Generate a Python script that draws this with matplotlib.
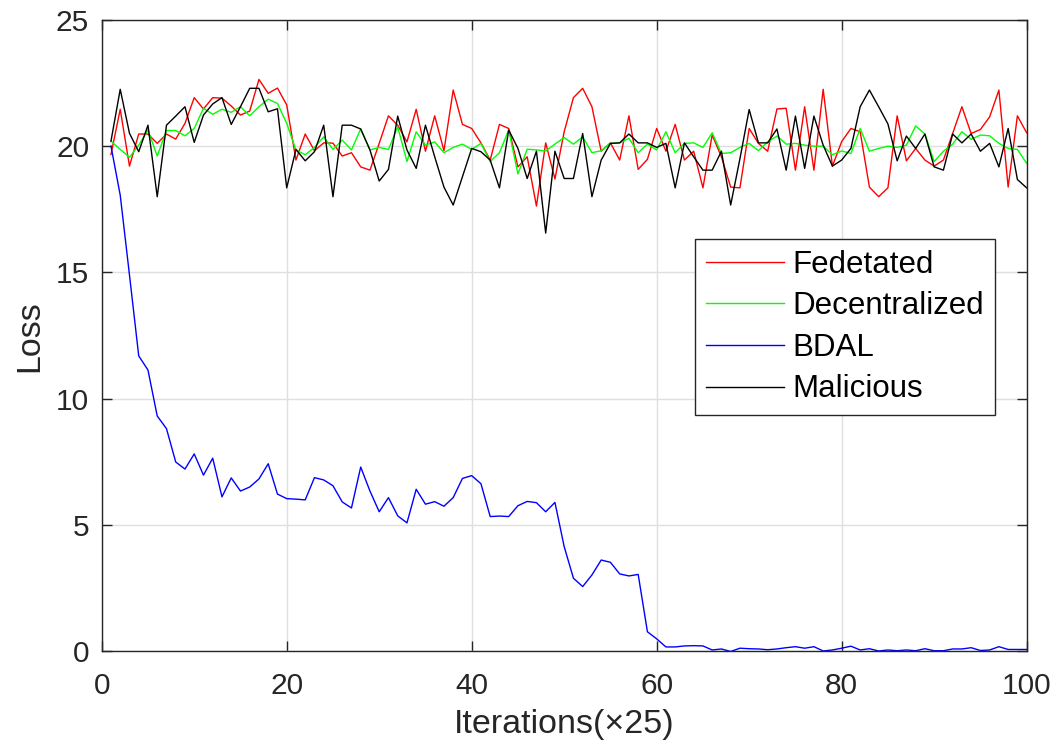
import numpy as np
import matplotlib
matplotlib.use('Agg')
import matplotlib.pyplot as plt

# iteration index (x25)
iterations = np.arange(1, 101)

federated = [
    19.67, 21.46, 19.21, 20.48, 20.48, 20.11, 20.48, 20.28, 20.90, 21.92,
    21.47, 21.92, 21.90, 21.59, 21.23, 21.39, 22.64, 22.09, 22.30, 21.63,
    19.45, 20.48, 19.82, 20.13, 20.12, 19.61, 19.74, 19.18, 19.05, 20.11,
    21.20, 20.83, 20.17, 21.46, 19.80, 21.20, 19.82, 22.22, 20.86, 20.70,
    20.13, 19.45, 20.86, 20.70, 19.18, 19.58, 17.63, 20.13, 18.70, 20.57,
    21.92, 22.29, 21.56, 19.80, 20.13, 19.45, 21.20, 19.08, 19.48, 20.70,
    19.80, 20.86, 19.45, 19.80, 18.35, 20.44, 19.58, 18.38, 18.35, 20.70,
    20.11, 19.80, 21.47, 21.50, 19.05, 21.56, 19.05, 22.25, 19.21, 20.18,
    20.70, 20.57, 18.38, 18.00, 18.35, 21.20, 19.42, 19.91, 19.45, 19.21,
    19.45, 20.50, 21.56, 20.50, 20.66, 21.16, 22.22, 18.38, 21.20, 20.53,
]

decentralized = [
    20.20, 19.87, 19.56, 20.04, 20.64, 19.61, 20.62, 20.62, 20.41, 20.70,
    21.50, 21.26, 21.46, 21.34, 21.56, 21.20, 21.56, 21.86, 21.69, 20.90,
    19.85, 19.66, 19.95, 20.37, 19.87, 20.24, 19.85, 20.68, 19.85, 19.95,
    19.87, 20.76, 19.39, 20.57, 20.04, 20.17, 19.74, 19.95, 20.08, 19.87,
    20.11, 19.39, 19.74, 20.64, 18.90, 19.88, 19.85, 19.81, 20.08, 20.34,
    20.08, 20.37, 19.74, 19.82, 20.11, 20.13, 20.31, 19.74, 20.08, 19.85,
    20.57, 19.74, 20.11, 20.13, 19.95, 20.53, 19.71, 19.74, 19.95, 20.11,
    19.82, 20.17, 20.40, 20.08, 20.11, 20.04, 20.00, 20.00, 19.66, 19.81,
    19.71, 20.70, 19.80, 19.91, 20.00, 19.95, 20.04, 20.80, 20.48, 19.39,
    19.80, 20.08, 20.57, 20.27, 20.44, 20.41, 20.11, 19.91, 19.87, 19.32,
]

bdal = [
    20.00, 18.06, 14.90, 11.70, 11.14, 9.32, 8.82, 7.50, 7.22, 7.82,
    6.98, 7.65, 6.12, 6.87, 6.35, 6.51, 6.83, 7.43, 6.23, 6.05,
    6.03, 6.00, 6.88, 6.79, 6.56, 5.92, 5.68, 7.30, 6.35, 5.53,
    6.09, 5.37, 5.09, 6.42, 5.83, 5.93, 5.75, 6.09, 6.85, 6.96,
    6.64, 5.34, 5.36, 5.34, 5.77, 5.94, 5.89, 5.53, 5.90, 4.15,
    2.90, 2.57, 3.03, 3.62, 3.53, 3.07, 2.99, 3.05, 0.78, 0.50,
    0.18, 0.18, 0.22, 0.23, 0.22, 0.06, 0.10, 0.00, 0.13, 0.11,
    0.10, 0.07, 0.10, 0.15, 0.19, 0.13, 0.19, 0.02, 0.06, 0.13,
    0.21, 0.06, 0.11, 0.02, 0.06, 0.03, 0.06, 0.03, 0.11, 0.03,
    0.03, 0.10, 0.10, 0.15, 0.04, 0.06, 0.19, 0.08, 0.08, 0.08,
]

malicious = [
    20.20, 22.25, 20.51, 19.78, 20.83, 18.00, 20.83, 21.19, 21.56, 20.15,
    21.23, 21.67, 21.92, 20.86, 21.56, 22.29, 22.29, 21.36, 21.48, 18.35,
    19.87, 19.42, 19.78, 20.83, 18.00, 20.83, 20.83, 20.68, 19.85, 18.62,
    19.08, 21.19, 19.85, 19.12, 20.83, 19.58, 18.38, 17.67, 18.79, 19.91,
    19.78, 19.45, 18.35, 20.64, 19.91, 18.72, 19.80, 16.56, 19.80, 18.72,
    18.72, 20.50, 18.00, 19.45, 20.11, 20.13, 20.48, 20.13, 20.13, 19.95,
    20.11, 18.35, 20.13, 19.58, 19.05, 19.05, 19.80, 17.67, 19.50, 21.45,
    20.13, 20.13, 20.68, 19.05, 21.19, 19.12, 21.19, 20.04, 19.21, 19.45,
    19.91, 21.56, 22.22, 21.56, 20.88, 19.42, 20.40, 19.91, 20.48, 19.18,
    19.05, 20.48, 20.13, 20.48, 19.80, 20.11, 19.18, 20.70, 18.68, 18.35,
]

series = [
    ('Fedetated', federated, '#ff0000'),
    ('Decentralized', decentralized, '#00ff00'),
    ('BDAL', bdal, '#0000ff'),
    ('Malicious', malicious, '#000000'),
]

plt.rcParams['font.family'] = ['Liberation Sans', 'DejaVu Sans']
text_color = '#262626'

fig = plt.figure(figsize=(10.63, 7.51), dpi=100)
ax = fig.add_axes([0.0957, 0.1325, 0.8701, 0.8411])

for name, values, color in series:
    ax.plot(iterations, values, color=color, linewidth=1.0, label=name)

ax.set_xlim(0, 100)
ax.set_ylim(0, 25)
ax.set_xticks([0, 20, 40, 60, 80, 100])
ax.set_yticks([0, 5, 10, 15, 20, 25])
ax.grid(True, color='#dfdfdf', linewidth=1.0)
ax.set_axisbelow(True)

for spine in ax.spines.values():
    spine.set_color(text_color)
    spine.set_linewidth(1.0)
ax.tick_params(direction='in', length=7, width=1.0, top=True, right=True,
               colors=text_color, labelsize=21.5)
ax.tick_params(axis='x', pad=15)
ax.tick_params(axis='y', pad=9)

ax.set_xlabel('Iterations(×25)', fontsize=24.5, color=text_color, labelpad=6)
ax.set_ylabel('Loss', fontsize=24.5, color=text_color, labelpad=8)

leg = ax.legend(loc='upper left', bbox_to_anchor=(0.654, 0.682),
                bbox_transform=fig.transFigure, fontsize=22.5,
                frameon=True, fancybox=False, framealpha=1.0,
                edgecolor=text_color, handlelength=2.5, handletextpad=0.25,
                labelspacing=0.37, borderpad=0.35, borderaxespad=0)
leg.get_frame().set_linewidth(1.0)

fig.savefig('out.png', dpi=100)
